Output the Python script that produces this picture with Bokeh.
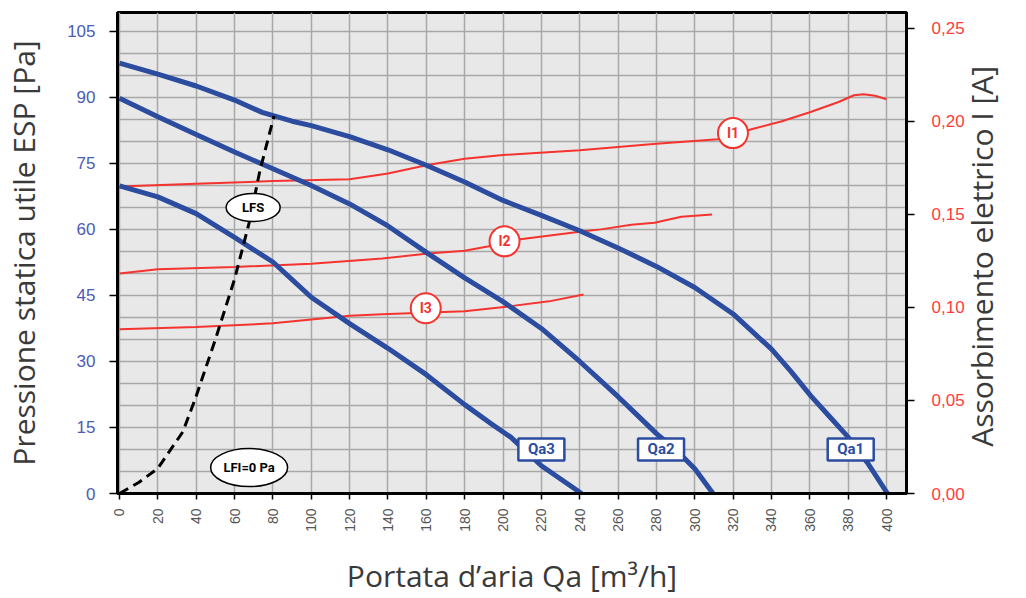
import math, sys
from bokeh.plotting import figure
from bokeh.models import (Range1d, LinearAxis, FixedTicker, CustomJSTickFormatter,
                          ColumnDataSource)
from bokeh.core.properties import value
from bokeh.embed import file_html
from bokeh.resources import INLINE

# ---------------- data ----------------
x_ticks = list(range(0, 401, 20))
y_ticks = [0, 15, 30, 45, 60, 75, 90, 105]
i_ticks = [0.0, 0.05, 0.10, 0.15, 0.20, 0.25]

qa1_x = [0, 20, 40, 60, 74.4, 90, 100, 120, 140, 160, 180, 200, 220, 240, 260, 280, 300, 320, 340, 350, 360.5, 370, 380, 390, 400.5]
qa1_p = [97.8, 95.3, 92.6, 89.4, 86.6, 84.6, 83.6, 81.1, 78.1, 74.6, 70.8, 66.6, 63.2, 59.7, 55.8, 51.6, 46.8, 40.8, 32.8, 27.8, 22.2, 17.6, 12.8, 7.0, 0]

qa2_x = [0, 20, 40, 60, 80, 100, 120, 140, 160, 180, 200, 220, 240, 260, 270, 280, 290, 300, 309.5]
qa2_p = [89.8, 85.6, 81.6, 77.6, 73.8, 70.0, 65.8, 60.8, 54.8, 49.0, 43.6, 37.5, 30.0, 22.0, 17.8, 13.6, 10.0, 5.6, 0]

qa3_x = [0, 20, 40, 60, 80, 90, 100, 120, 140, 160, 180, 194, 204, 220, 241]
qa3_p = [69.9, 67.4, 63.6, 58.2, 52.6, 48.6, 44.6, 38.6, 33.0, 27.0, 20.2, 15.8, 12.8, 6.3, 0]

lfs_x = [0, 10, 20, 33, 39.5, 50, 60, 67.6, 73.3, 80.6]
lfs_p = [0, 2.5, 5.7, 14, 21.5, 35, 48.7, 61.5, 73.5, 85.8]

i1_x = [0, 40, 80, 120, 140, 160, 180, 200, 240, 280, 312, 330, 345, 360, 375, 383, 388, 394, 400]
i1_a = [0.165, 0.1665, 0.168, 0.169, 0.172, 0.1765, 0.180, 0.182, 0.1845, 0.188, 0.1905, 0.196, 0.200, 0.205, 0.2105, 0.2141, 0.2147, 0.2138, 0.212]

i2_x = [0, 20, 60, 100, 137, 161, 180, 192, 208, 241, 251, 267, 279, 293, 309]
i2_a = [0.1183, 0.1205, 0.1218, 0.1235, 0.1263, 0.129, 0.1305, 0.1328, 0.1365, 0.1408, 0.142, 0.1445, 0.1456, 0.1488, 0.150]

i3_x = [0, 40, 80, 100, 120, 137, 180, 203, 224, 242]
i3_a = [0.0883, 0.0895, 0.0915, 0.0935, 0.0955, 0.0964, 0.098, 0.1006, 0.1033, 0.107]

qa_label_text = ["Qa3", "Qa2", "Qa1"]
qa_label_x = [220, 282.4, 381.3]
qa_label_p = [10, 10, 10]

i_label_text = ["I1", "I2", "I3"]
i_label_x = [319.9, 200.8, 159.7]
i_label_p = [81.9, 57.3, 42.1]

lf_label_text = ["LFS", "LFI=0 Pa"]
lf_label_x = [69.7, 67.6]
lf_label_p = [65, 5.9]
lf_label_w = [54, 77]
lf_label_h = [28, 38]

# ---------------- style ----------------
BLUE = "#2b4c9f"
BLUE_TXT = "#4c5bb3"
RED = "#f5332f"
RED_TXT = "#ff3c3c"
TITLE = "#3a3a3a"
TITLE_FONT = "Open Sans"
TITLE_SIZE = "30px"
TICK_FONT = "Liberation Sans"

P_MAX = 109.3
I_MAX = 0.2586

p = figure(width=1026, height=598, output_backend="svg", toolbar_location=None,
           x_range=Range1d(-1.04, 410.4), y_range=Range1d(0, P_MAX),
           min_border_left=115, min_border_right=120, min_border_top=12, min_border_bottom=103)
p.extra_y_ranges = {"I": Range1d(0, I_MAX)}

p.background_fill_color = "#e8e8e8"
p.border_fill_color = "white"
p.outline_line_color = "black"
p.outline_line_width = 3

# grids
p.xgrid.ticker = FixedTicker(ticks=x_ticks)
p.ygrid.ticker = FixedTicker(ticks=list(range(0, 106, 5)))
for g in (p.xgrid, p.ygrid):
    g.grid_line_color = "#a8a8a8"
    g.grid_line_width = 1.5

# x axis
xa = p.xaxis[0]
xa.ticker = FixedTicker(ticks=x_ticks)
xa.major_label_orientation = math.pi / 2
xa.major_label_text_font = TICK_FONT
xa.major_label_text_font_size = "14px"
xa.major_label_text_color = "#555555"
xa.major_label_standoff = 9
xa.axis_label = "Portata d’aria Qa [m³/h]"
xa.axis_label_standoff = 20

# left axis
ya = p.yaxis[0]
ya.ticker = FixedTicker(ticks=y_ticks)
ya.major_label_text_font = TICK_FONT
ya.major_label_text_font_size = "17px"
ya.major_label_text_color = BLUE_TXT
ya.major_label_standoff = 14
ya.axis_label = "Pressione statica utile ESP [Pa]"
ya.axis_label_standoff = 20

# right axis
ra = LinearAxis(y_range_name="I", ticker=FixedTicker(ticks=i_ticks))
ra.formatter = CustomJSTickFormatter(code="return tick.toFixed(2).replace('.', ',');")
ra.major_label_text_font = TICK_FONT
ra.major_label_text_font_size = "17px"
ra.major_label_text_color = RED_TXT
ra.major_label_standoff = 17
ra.axis_label_standoff = 14
p.add_layout(ra, "right")

right_title = "Assorbimento elettrico I [A]"
props = ra.properties()
if "axis_label_orientation" in props and "axis_label_align" in props:
    ra.axis_label_orientation = math.pi / 2
    ra.axis_label_align = "start"
    ra.axis_label = "\u00a0" * 6 + right_title
else:
    ra.axis_label = right_title

for ax in (xa, ya, ra):
    ax.axis_label_text_font = TITLE_FONT
    ax.axis_label_text_font_size = TITLE_SIZE
    ax.axis_label_text_font_style = "normal"
    ax.axis_label_text_color = TITLE
    ax.axis_line_color = "black"
    ax.axis_line_width = 3
    ax.major_tick_line_color = "black"
    ax.major_tick_line_width = 1.5
    ax.major_tick_in = 0
    ax.major_tick_out = 8
    ax.minor_tick_line_color = None
xa.major_tick_out = 6

# ---------------- curves ----------------
p.line(i1_x, i1_a, y_range_name="I", line_color=RED, line_width=2)
p.line(i2_x, i2_a, y_range_name="I", line_color=RED, line_width=2)
p.line(i3_x, i3_a, y_range_name="I", line_color=RED, line_width=2)

for xs, ys in ((qa1_x, qa1_p), (qa2_x, qa2_p), (qa3_x, qa3_p)):
    p.line(xs, ys, line_color=BLUE, line_width=5, line_join="round")

p.line(lfs_x, lfs_p, line_color="black", line_width=3, line_dash="10 6")

# ---------------- labels ----------------
qa_src = ColumnDataSource(dict(x=qa_label_x, y=qa_label_p, t=qa_label_text))
p.rect("x", "y", width=46, height=22, width_units="screen", height_units="screen",
       fill_color="white", line_color=BLUE, line_width=2.5, source=qa_src)
p.text("x", "y", text="t", source=qa_src, text_align="center", text_baseline="middle",
       text_font=value("Roboto"), text_font_style="bold", text_font_size="15px", text_color=BLUE)

i_src = ColumnDataSource(dict(x=i_label_x, y=i_label_p, t=i_label_text))
p.scatter("x", "y", size=30, marker="circle", fill_color="white", line_color=RED,
          line_width=2, source=i_src)
p.text("x", "y", text="t", source=i_src, text_align="center", text_baseline="middle",
       text_font=value("Roboto"), text_font_style="bold", text_font_size="14px", text_color=RED)

lf_src = ColumnDataSource(dict(x=lf_label_x, y=lf_label_p, t=lf_label_text,
                               w=lf_label_w, h=lf_label_h))
p.ellipse("x", "y", width="w", height="h", width_units="screen", height_units="screen",
          fill_color="white", line_color="black", line_width=1.5, source=lf_src)
p.text("x", "y", text="t", source=lf_src, text_align="center", text_baseline="middle",
       text_font=value("Roboto"), text_font_style="bold", text_font_size="13px", text_color="black")

open("out.html", "w").write(file_html(p, INLINE))
